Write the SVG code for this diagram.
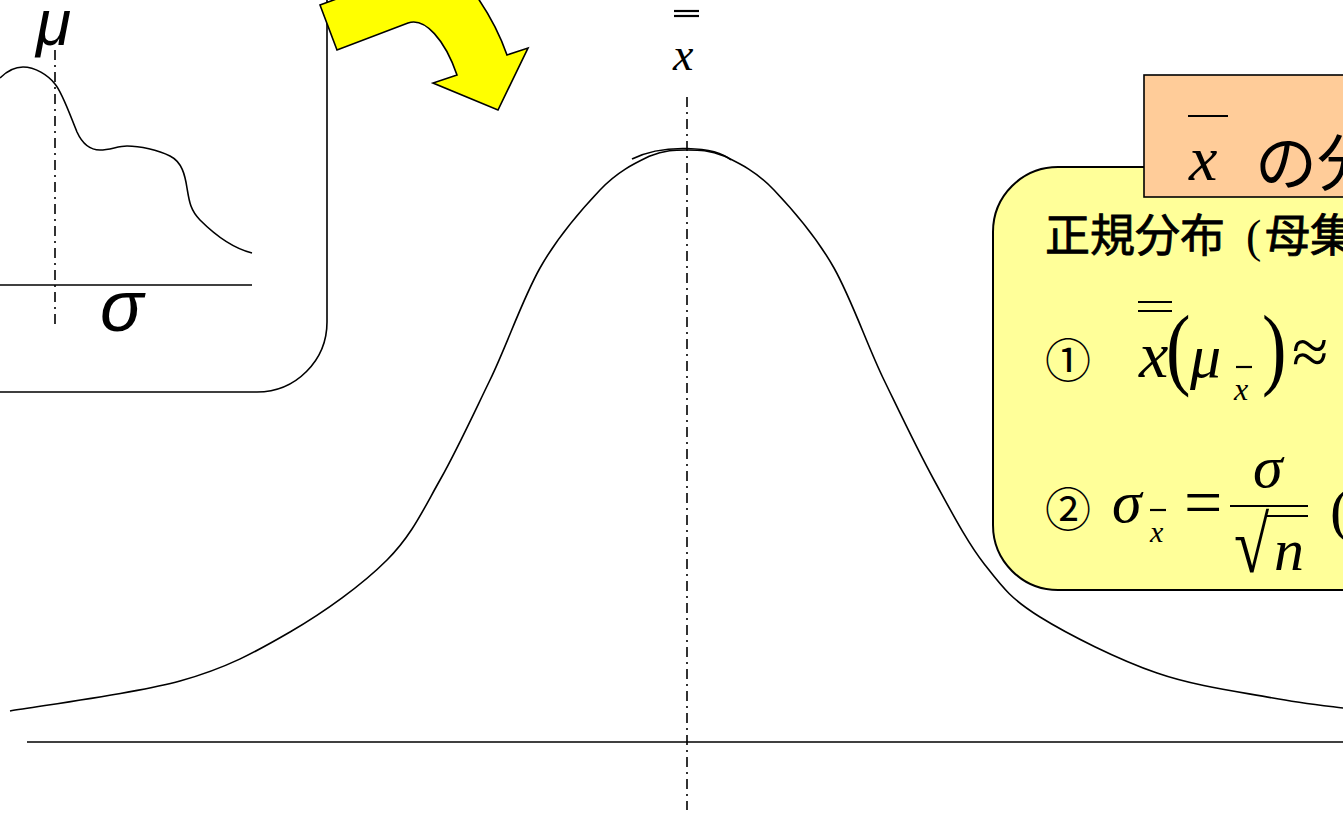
<svg xmlns="http://www.w3.org/2000/svg" width="1343" height="814" viewBox="0 0 1343 814">
<style>
.ln{fill:none;stroke:#000;stroke-width:1.6}
.dd{fill:none;stroke:#000;stroke-width:1.6;stroke-dasharray:10 5 2 5}
.m{font-style:italic;fill:#000}
.s{fill:#000}
.j{font-family:"Noto Sans CJK JP",sans-serif;fill:#000}
.jb{stroke:#000;stroke-width:0.8}
.bar{stroke:#000;stroke-width:2.2}
</style>
<rect width="1343" height="814" fill="#fff"/>

<g id="population-box">
  <path class="ln" d="M327 -5 L327 322 A70 70 0 0 1 257 392 L-5 392" stroke-width="2"/>
  <path class="ln" d="M0 78 C8 70 15 67 23 67 C35 67 48 75 55 84 C62 92 70 115 77 132 C82 143 90 150 100 150 C110 150 118 146 127 146 C140 146 158 150 170 156 C182 162 185 175 187 188 C189 200 190 210 200 220 C215 235 232 248 252 253"/>
  <line class="ln" x1="0" y1="285" x2="252" y2="285" stroke-width="2"/>
  <line class="dd" x1="55" y1="50" x2="55" y2="324"/>
  <text x="36" y="45" font-family="Liberation Sans, sans-serif" font-style="italic" font-size="64">μ</text>
  <text x="100" y="331" font-family="Liberation Sans, sans-serif" font-style="italic" font-size="72">σ</text>
</g>

<g id="arrow">
  <path d="M350 -6 L320 5 L337 50 L408 23 C425 17 445 40 457 75 L433 83 L498 110 L528 48 L507 55 C500 35 490 15 475 -6 Z" fill="#ffff00" stroke="#000" stroke-width="1.6" stroke-linejoin="miter"/>
</g>

<g id="sampling-distribution">
  <path class="ln" d="M10 711 C38 706 133 694 180 681 C227 668 255.5 652 290 632 C324.5 612 362 585 387 560 C412 535 423 510 440 480 C457 450 473 415 490 380 C507 345 522 300 540 268 C558 236 582 209 600 190 C618 171 635.5 163 650 156 C664.5 150 675 150 687 150 C699 150 709.5 150 724 156 C738.5 163 756 171 774 190 C792 209 816 236 834 268 C852 300 867 345 884 380 C901 415 917 449 934 480 C951 511 967 542 985 565 C1003 588 1011 599 1040 617 C1069 635 1118 659.5 1157 673 C1196 686.5 1241 692 1273 698 C1305 704 1337 707 1350 709"/>
  <path class="ln" d="M632 159 C648 151 668 148 687 148.5 C705 149 722 152 731 160" stroke-width="1.3"/>
  <line class="ln" x1="27" y1="742" x2="1343" y2="742" stroke-width="2"/>
  <line class="dd" x1="687" y1="97" x2="687" y2="810"/>
  <line class="bar" x1="674" y1="11" x2="699" y2="11" stroke-width="1.6"/>
  <line class="bar" x1="674" y1="16" x2="699" y2="16" stroke-width="1.6"/>
  <text class="m" font-family="Liberation Serif, serif" x="673" y="70" font-size="46">x</text>
</g>

<g id="info-box">
  <rect x="993" y="167" width="500" height="423" rx="65" fill="#ffff99" stroke="#000" stroke-width="2"/>
  <text class="j jb" x="1045" y="252" font-size="45">正規分布</text>
  <text class="s" font-family="Liberation Serif, serif" x="1246" y="252" font-size="46">(</text>
  <text class="j jb" x="1265" y="252" font-size="45">母集</text>

  <text class="j" x="1045" y="377" font-size="46">①</text>
  <line class="bar" x1="1138" y1="302" x2="1172" y2="302"/>
  <line class="bar" x1="1138" y1="311" x2="1172" y2="311"/>
  <text class="m" font-family="Liberation Serif, serif" x="1139" y="377" font-size="66">x</text>
  <text class="s" font-family="Liberation Serif, serif" x="1166" y="378" font-size="92" transform="translate(1166 378) scale(0.8 1) translate(-1166 -378)">(</text>
  <text class="m" font-family="Liberation Serif, serif" x="1190" y="377" font-size="62">μ</text>
  <line class="bar" x1="1236" y1="367" x2="1252" y2="367" stroke-width="1.6"/>
  <text class="m" font-family="Liberation Serif, serif" x="1234" y="400" font-size="32">x</text>
  <text class="s" font-family="Liberation Serif, serif" x="1262" y="378" font-size="92" transform="translate(1262 378) scale(0.8 1) translate(-1262 -378)">)</text>
  <text class="s" font-family="Liberation Serif, serif" x="1292" y="374" font-size="66">≈</text>

  <text class="j" x="1045" y="526" font-size="46">②</text>
  <text class="m" font-family="Liberation Serif, serif" x="1112" y="522" font-size="60">σ</text>
  <line class="bar" x1="1150" y1="510" x2="1166" y2="510" stroke-width="1.6"/>
  <text class="m" font-family="Liberation Serif, serif" x="1150" y="542" font-size="30">x</text>
  <text class="s" font-family="Liberation Serif, serif" x="1184" y="525" font-size="68">=</text>
  <line class="bar" x1="1230" y1="506" x2="1308" y2="506" stroke-width="2.6"/>
  <text class="m" font-family="Liberation Serif, serif" x="1253" y="487" font-size="60">σ</text>
  <text class="s" font-family="Liberation Serif, serif" x="1234" y="572" font-size="64" transform="translate(1234 572) scale(1 1.25) translate(-1234 -572)">√</text>
  <line class="bar" x1="1266" y1="516" x2="1308" y2="516" stroke-width="2.4"/>
  <text class="m" font-family="Liberation Serif, serif" x="1274" y="570" font-size="60">n</text>
  <text class="s" font-family="Liberation Serif, serif" x="1330" y="530" font-size="60">(</text>
</g>

<g id="title">
  <rect x="1144" y="75" width="300" height="122" fill="#ffcc99" stroke="#000" stroke-width="1.6"/>
  <line class="bar" x1="1188" y1="116" x2="1228" y2="116"/>
  <text class="m" font-family="Liberation Serif, serif" x="1189" y="180" font-size="64">x</text>
  <text class="j" x="1255" y="186" font-size="62">の分</text>
</g>
</svg>
